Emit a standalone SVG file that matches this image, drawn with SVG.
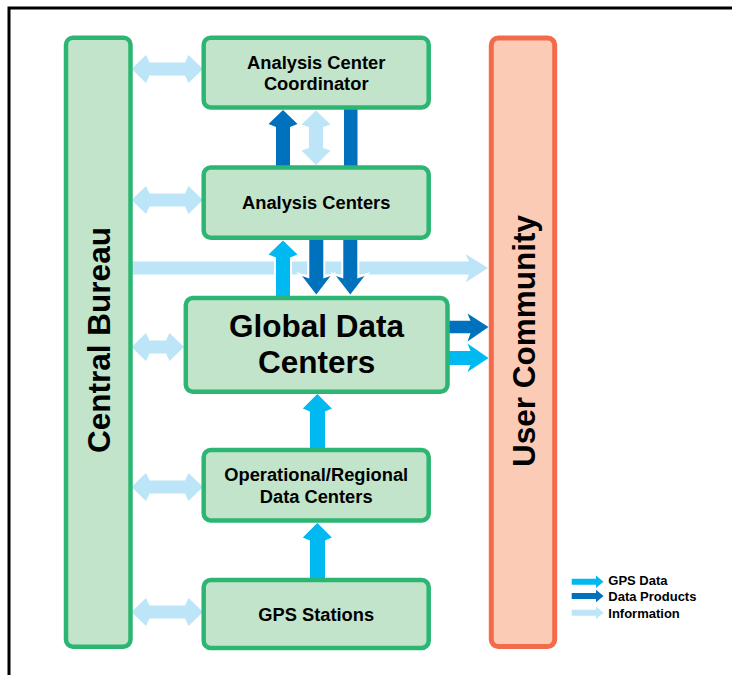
<svg xmlns="http://www.w3.org/2000/svg" width="732" height="675" viewBox="0 0 732 675">
<style>
.g{fill:#c2e4cb;stroke:#2db673;stroke-width:4.5}
.o{fill:#fccbb6;stroke:#f26b4a;stroke-width:5}
.t{font-family:"Liberation Sans",Arial,sans-serif;font-weight:bold;fill:#000;text-anchor:middle}
.s{font-size:18.3px}
.b{font-size:31.5px}
.lg{font-family:"Liberation Sans",Arial,sans-serif;font-weight:bold;font-size:13px;fill:#000}
.li{fill:#bde5f8}
.cy{fill:#00b9f1}
.db{fill:#0071bc}
.w{stroke:#fff;stroke-width:4;paint-order:stroke}
</style>
<rect width="732" height="675" fill="#fff"/>
<path d="M9 675 V8 H732" fill="none" stroke="#000" stroke-width="3"/>
<g id="connectors">
  <polygon class="li" points="131.5,69 146,55 149.5,62.5 185,62.5 188.5,55 203,69 188.5,83 185,75.5 149.5,75.5 146,83"/>
  <polygon class="li" points="131.5,200 146,186 149.5,193.5 185,193.5 188.5,186 203,200 188.5,214 185,206.5 149.5,206.5 146,214"/>
  <polygon class="li" points="131.5,347 146,333 149.5,340.5 166,340.5 169.5,333 184,347 169.5,361 166,353.5 149.5,353.5 146,361"/>
  <polygon class="li" points="131.5,487 146,473 149.5,480.5 185,480.5 188.5,473 203,487 188.5,501 185,493.5 149.5,493.5 146,501"/>
  <polygon class="li" points="131.5,612 146,598 149.5,605.5 185,605.5 188.5,598 203,612 188.5,626 185,618.5 149.5,618.5 146,626"/>
  <polygon class="li" points="131,261.5 469,261.5 465.5,254 488,268 465.5,282.5 469,274.5 131,274.5"/>
  <polygon class="db" points="283,110 297.5,124 290,127 290,166 276,166 276,127 268.5,124"/>
  <polygon class="li" points="316,110.5 330.5,124.5 323,127 323,148 330.5,150.5 316,165 301.5,150.5 309,148 309,127 301.5,124.5"/>
  <rect class="db" x="344" y="108" width="13.5" height="58"/>
  <polygon class="cy w" points="283,240.5 297.5,254.5 290,257.5 290,297 276,297 276,257.5 268.5,254.5"/>
  <polygon class="db w" points="309.3,239 323.3,239 323.3,278.5 330.5,276 316.3,294.5 302,276 309.3,278.5"/>
  <polygon class="db w" points="343.3,239 357.3,239 357.3,278.5 364.5,276 350.3,294.5 336,276 343.3,278.5"/>
  <polygon class="db" points="448,320.7 470.5,320.7 467.5,313.5 488.5,327 467.5,341.5 470.5,333.3 448,333.3"/>
  <polygon class="cy" points="448,351 470.5,351 467.5,343.5 488.5,358 467.5,372 470.5,365 448,365"/>
  <polygon class="cy" points="317.3,394 331.8,408.5 325,411.5 325,449 310,449 310,411.5 302.8,408.5"/>
  <polygon class="cy" points="317.3,523 331.8,537.5 325,540.5 325,579 310,579 310,540.5 302.8,537.5"/>
</g>
<g id="central-bureau">
  <rect class="g" x="66" y="37.7" width="64.5" height="609" rx="7"/>
  <text class="t b" transform="translate(110,340) rotate(-90)">Central Bureau</text>
</g>
<g id="analysis-center-coordinator">
  <rect class="g" x="203.7" y="37.7" width="225" height="69.8" rx="7"/>
  <text class="t s" x="316.2" y="68.5">Analysis Center</text>
  <text class="t s" x="316.2" y="90">Coordinator</text>
</g>
<g id="analysis-centers">
  <rect class="g" x="203.7" y="167.5" width="225" height="70.2" rx="7"/>
  <text class="t s" x="316.2" y="209">Analysis Centers</text>
</g>
<g id="global-data-centers">
  <rect class="g" x="185.8" y="298" width="261.7" height="93.7" rx="7"/>
  <text class="t b" x="316.6" y="336.5">Global Data</text>
  <text class="t b" x="316.6" y="373.3">Centers</text>
</g>
<g id="operational-regional-data-centers">
  <rect class="g" x="203.7" y="450" width="225" height="70.5" rx="7"/>
  <text class="t s" x="316.2" y="481">Operational/Regional</text>
  <text class="t s" x="316.2" y="503">Data Centers</text>
</g>
<g id="gps-stations">
  <rect class="g" x="203.7" y="580" width="225" height="68" rx="7"/>
  <text class="t s" x="316.2" y="620.5">GPS Stations</text>
</g>
<g id="user-community">
  <rect class="o" x="491.3" y="38" width="63.4" height="608.5" rx="7"/>
  <text class="t b" transform="translate(535,341) rotate(-90)">User Community</text>
</g>
<g id="legend">
  <polygon class="cy" points="571.7,578.7 596,578.7 596,575.5 603.5,581.7 596,588 596,584.7 571.7,584.7"/>
  <polygon class="db" points="571.7,593 596,593 596,589.8 603.5,596 596,602.3 596,599 571.7,599"/>
  <polygon class="li" points="571.7,609.7 596,609.7 596,606.5 603.5,612.7 596,619 596,615.7 571.7,615.7"/>
  <text class="lg" x="608.3" y="585">GPS Data</text>
  <text class="lg" x="608.3" y="600.7">Data Products</text>
  <text class="lg" x="608.3" y="617.5">Information</text>
</g>
</svg>
